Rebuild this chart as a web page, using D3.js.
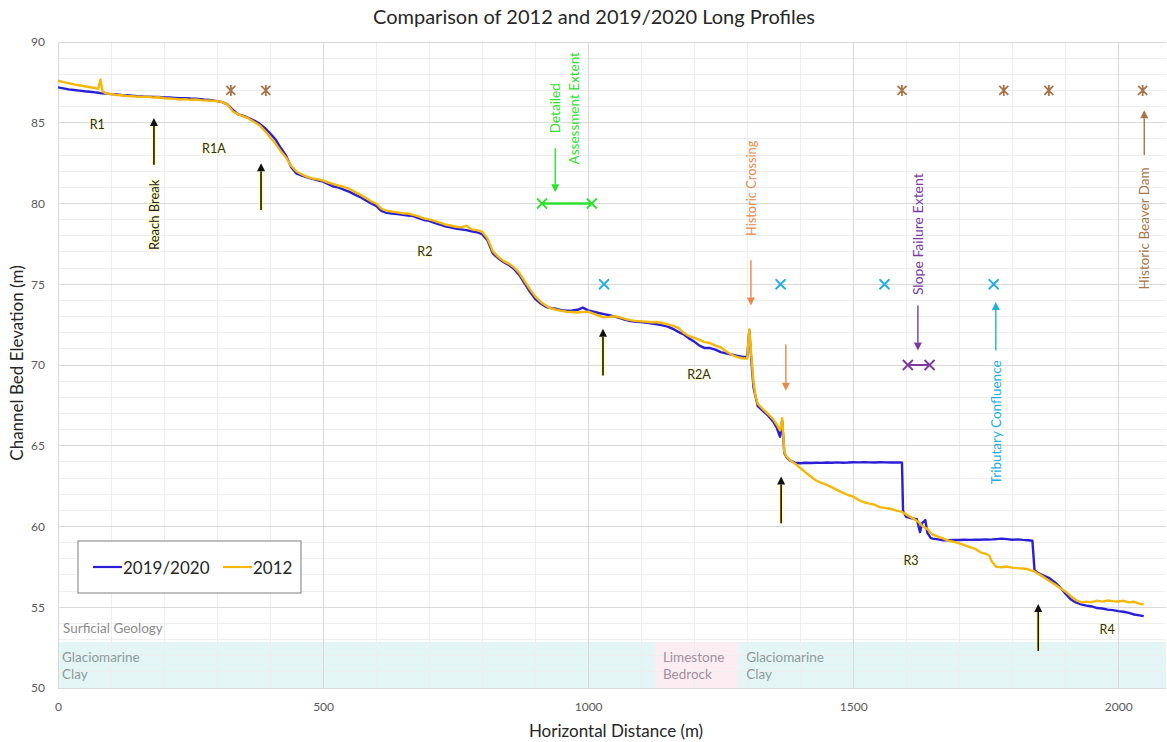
<!DOCTYPE html>
<html><head><meta charset="utf-8">
<script src="https://cdn.jsdelivr.net/npm/d3@7"></script>
<style>
body{margin:0;background:#fff;}
svg{display:block;font-family:Lato,"Open Sans",sans-serif;}
</style></head><body>
<svg id="chart" width="1167" height="742"></svg>
<script>
// ---------------- data ----------------
const distance = [
 0,10,20,30,40,50,60,70,76,80,
 84,90,100,110,120,130,140,150,160,170,
 180,190,200,210,220,230,240,250,260,270,
 280,290,300,310,320,330,340,350,360,370,
 380,390,400,410,420,430,440,450,460,470,
 480,490,500,510,520,530,540,550,560,570,
 580,590,600,610,620,630,640,650,660,670,
 680,690,700,710,720,730,740,750,760,770,
 780,790,800,810,820,830,840,850,860,870,
 880,890,900,910,920,930,940,950,960,970,
 980,990,1000,1010,1020,1030,1040,1050,1060,1070,
 1080,1090,1100,1110,1120,1130,1140,1150,1160,1170,
 1180,1190,1200,1210,1220,1230,1240,1250,1260,1270,
 1280,1290,1300,1304,1308,1312,1316,1320,1330,1340,
 1350,1356,1362,1366,1370,1374,1380,1390,1400,1410,
 1420,1430,1440,1450,1460,1470,1480,1490,1500,1510,
 1520,1530,1540,1550,1560,1570,1580,1590,1592,1594,
 1600,1610,1620,1626,1630,1636,1640,1646,1650,1660,
 1670,1680,1690,1700,1710,1720,1730,1740,1750,1756,
 1762,1770,1780,1790,1800,1810,1820,1830,1838,1842,
 1850,1860,1870,1880,1890,1900,1910,1920,1930,1940,
 1950,1960,1970,1980,1990,2000,2010,2020,2030,2040,
 2048
];
const elev2020 = [
 87.19,87.13,87.07,87.03,86.99,86.95,86.92,86.88,86.86,86.83,
 86.82,86.80,86.77,86.76,86.72,86.70,86.68,86.65,86.63,86.62,
 86.60,86.59,86.57,86.56,86.54,86.52,86.52,86.50,86.49,86.46,
 86.42,86.40,86.34,86.28,86.12,85.80,85.52,85.42,85.28,85.14,
 84.95,84.68,84.35,83.98,83.45,82.98,82.25,81.85,81.72,81.62,
 81.52,81.44,81.35,81.20,81.05,80.98,80.85,80.72,80.55,80.40,
 80.20,80.02,79.85,79.55,79.42,79.38,79.35,79.30,79.26,79.22,
 79.10,78.98,78.92,78.80,78.70,78.58,78.52,78.45,78.40,78.35,
 78.28,78.22,78.10,77.72,76.92,76.62,76.38,76.20,75.95,75.58,
 75.05,74.55,74.10,73.82,73.60,73.52,73.48,73.40,73.36,73.38,
 73.42,73.55,73.38,73.30,73.22,73.15,73.08,73.00,72.90,72.80,
 72.72,72.68,72.66,72.62,72.56,72.52,72.45,72.38,72.24,72.05,
 71.90,71.65,71.45,71.20,71.05,71.05,70.95,70.80,70.72,70.65,
 70.58,70.52,70.50,72.15,70.20,68.60,68.00,67.45,67.15,66.85,
 66.45,66.10,65.55,66.55,64.55,64.30,64.10,63.95,63.92,63.95,
 63.93,63.95,63.94,63.96,63.95,63.97,63.95,63.96,63.98,63.97,
 63.98,63.97,63.96,63.98,63.97,63.96,63.97,63.96,63.95,60.95,
 60.60,60.50,60.45,59.65,60.20,60.40,59.60,59.30,59.25,59.20,
 59.15,59.15,59.17,59.16,59.18,59.17,59.19,59.18,59.20,59.19,
 59.20,59.22,59.25,59.22,59.18,59.20,59.17,59.15,59.12,57.30,
 57.10,56.95,56.80,56.55,56.25,55.85,55.50,55.30,55.18,55.10,
 55.05,54.95,54.92,54.85,54.82,54.76,54.72,54.65,54.55,54.50,
 54.45
];
const elev2012 = [
 87.60,87.52,87.45,87.38,87.32,87.26,87.20,87.15,87.10,87.68,
 86.95,86.82,86.78,86.72,86.70,86.66,86.64,86.62,86.60,86.62,
 86.56,86.58,86.52,86.50,86.48,86.44,86.46,86.42,86.44,86.40,
 86.38,86.36,86.34,86.28,86.12,85.70,85.52,85.40,85.25,85.05,
 84.85,84.50,84.10,83.72,83.25,82.85,82.32,81.98,81.80,81.65,
 81.55,81.50,81.42,81.30,81.20,81.10,81.02,80.90,80.72,80.55,
 80.35,80.15,80.00,79.68,79.55,79.50,79.45,79.40,79.38,79.30,
 79.20,79.08,79.02,78.92,78.82,78.70,78.64,78.56,78.52,78.62,
 78.40,78.35,78.25,77.85,77.05,76.70,76.45,76.28,76.05,75.70,
 75.20,74.70,74.25,73.92,73.68,73.50,73.42,73.35,73.30,73.28,
 73.25,73.28,73.30,73.18,73.05,72.95,72.98,73.02,72.95,72.85,
 72.78,72.72,72.70,72.68,72.65,72.66,72.60,72.52,72.42,72.30,
 72.00,71.80,71.68,71.55,71.42,71.35,71.20,71.10,70.85,70.65,
 70.50,70.42,70.40,72.20,70.50,68.90,68.05,67.60,67.25,66.95,
 66.60,66.30,65.95,66.70,64.62,64.35,64.12,63.90,63.62,63.35,
 63.10,62.85,62.70,62.58,62.42,62.25,62.10,61.95,61.85,61.65,
 61.50,61.42,61.35,61.20,61.15,61.10,61.00,60.92,60.90,60.86,
 60.75,60.55,60.35,60.20,60.05,59.92,59.85,59.60,59.50,59.38,
 59.25,59.12,59.05,58.95,58.85,58.72,58.62,58.40,58.30,58.22,
 57.80,57.50,57.48,57.52,57.45,57.42,57.40,57.35,57.25,57.22,
 57.05,56.85,56.62,56.42,56.20,55.98,55.70,55.45,55.30,55.35,
 55.32,55.40,55.35,55.42,55.38,55.36,55.40,55.30,55.34,55.22,
 55.18
];
const seriesNames = ["2019/2020", "2012"];
const xTicks = [0, 500, 1000, 1500, 2000];
const yTicks = [50, 55, 60, 65, 70, 75, 80, 85, 90];

const reachNames = ["R1", "R1A", "R2", "R2A", "R3", "R4"];
const reachDist  = [74, 294, 692, 1209, 1609, 1979];
const reachElev  = [84.9, 83.4, 77.0, 69.4, 57.9, 53.6];

const reachBreakDist = [181, 383, 1028, 1364, 1849];
const reachBreakFrom = [82.4, 79.6, 69.35, 60.2, 52.3];
const reachBreakTo   = [85.3, 82.5, 72.25, 63.1, 55.2];

const beaverDamDist = [326, 392, 1592, 1784, 1869, 2046];
const beaverDamElev = 87;
const confluenceDist = [1030, 1363, 1559, 1765];
const confluenceElev = 75;
const assessmentDist = [913, 1007];
const assessmentElev = 80;
const slopeFailureDist = [1603, 1644];
const slopeFailureElev = 70;

const geologyTop = 52.85;
const geologyUnits = ["Glaciomarine|Clay", "Limestone|Bedrock", "Glaciomarine|Clay"];
const geologyStart = [0, 1126, 1283];
const geologyEnd   = [1126, 1283, 2090];

// ---------------- setup ----------------
const svg = d3.select("#chart");
const pL = 58, pR = 1166, pT = 42, pB = 688;
const x = d3.scaleLinear().domain([0, 2090]).range([pL, pR]);
const y = d3.scaleLinear().domain([50, 90]).range([pB, pT]);

svg.append("defs").append("clipPath").attr("id", "plotclip")
  .append("rect").attr("x", pL).attr("y", pT).attr("width", pR - pL).attr("height", pB - pT);

// geology band
const geo = svg.append("g");
geologyUnits.forEach((u, i) => {
  geo.append("rect")
    .attr("x", x(geologyStart[i])).attr("y", y(geologyTop))
    .attr("width", x(geologyEnd[i]) - x(geologyStart[i]))
    .attr("height", y(50) - y(geologyTop))
    .attr("fill", u.startsWith("Limestone") ? "#fcedf3" : "#e3f6f5");
});

// grid
const grid = svg.append("g");
d3.range(50, 91, 1).forEach(v => {
  if (v % 5 === 0) return;
  grid.append("line").attr("x1", pL).attr("x2", pR).attr("y1", y(v)).attr("y2", y(v))
    .attr("stroke", "#eeeeee").attr("stroke-width", 1).attr("shape-rendering", "crispEdges");
});
d3.range(100, 2090, 100).forEach(v => {
  if (v % 500 === 0) return;
  grid.append("line").attr("x1", x(v)).attr("x2", x(v)).attr("y1", pT).attr("y2", pB)
    .attr("stroke", "#eeeeee").attr("stroke-width", 1).attr("shape-rendering", "crispEdges");
});
yTicks.forEach(v => {
  grid.append("line").attr("x1", pL).attr("x2", pR).attr("y1", y(v)).attr("y2", y(v))
    .attr("stroke", "#d9d9d9").attr("stroke-width", 1).attr("shape-rendering", "crispEdges");
});
xTicks.forEach(v => {
  grid.append("line").attr("x1", x(v)).attr("x2", x(v)).attr("y1", pT).attr("y2", pB)
    .attr("stroke", "#d9d9d9").attr("stroke-width", 1).attr("shape-rendering", "crispEdges");
});

// geology text
const geoText = svg.append("g").attr("font-size", 13.5);
geoText.append("text").attr("x", pL + 5).attr("y", y(geologyTop) - 9)
  .attr("fill", "#8c8c8c").text("Surficial Geology");
geologyUnits.forEach((u, i) => {
  const lines = u.split("|");
  const tx = x(geologyStart[i]) + (i === 0 ? 4 : 8);
  const t = geoText.append("text").attr("x", tx).attr("fill", i === 1 ? "#a38d9c" : "#8e9a9a");
  lines.forEach((l, j) => t.append("tspan").attr("x", tx).attr("y", y(geologyTop) + 20 + j * 17).text(l));
});

// axes
const xAxis = svg.append("g").attr("transform", `translate(0,${pB})`)
  .call(d3.axisBottom(x).tickValues(xTicks).tickSize(0).tickPadding(14).tickFormat(d3.format("d")));
xAxis.select(".domain").remove();
xAxis.selectAll("text").attr("font-size", 12).attr("fill", "#595959").attr("font-family", "Lato,sans-serif");
const yAxis = svg.append("g").attr("transform", `translate(${pL},0)`)
  .call(d3.axisLeft(y).tickValues(yTicks).tickSize(0).tickPadding(13));
yAxis.select(".domain").remove();
yAxis.selectAll("text").attr("font-size", 12).attr("fill", "#595959").attr("font-family", "Lato,sans-serif");

// titles
svg.append("text").attr("x", 594).attr("y", 24).attr("text-anchor", "middle")
  .attr("font-size", 20).attr("fill", "#262626").text("Comparison of 2012 and 2019/2020 Long Profiles");
svg.append("text").attr("x", 616).attr("y", 737).attr("text-anchor", "middle")
  .attr("font-size", 17).attr("fill", "#262626").text("Horizontal Distance (m)");
svg.append("text").attr("transform", `translate(23,${(pT + pB) / 2 - 2}) rotate(-90)`)
  .attr("text-anchor", "middle").attr("font-size", 17).attr("fill", "#262626").text("Channel Bed Elevation (m)");

// lines
const line = d3.line().x((d) => x(d[0])).y((d) => y(d[1]));
const plot = svg.append("g").attr("clip-path", "url(#plotclip)");
const pts2020 = distance.map((d, i) => [d, elev2020[i]]);
const pts2012 = distance.map((d, i) => [d, elev2012[i]]);
plot.append("path").datum(pts2020).attr("d", line).attr("fill", "none")
  .attr("stroke", "#2a1fd6").attr("stroke-width", 2.4).attr("stroke-linejoin", "round");
plot.append("path").datum(pts2012).attr("d", line).attr("fill", "none")
  .attr("stroke", "#f5b80a").attr("stroke-width", 2.4).attr("stroke-linejoin", "round");

// helpers
const ann = svg.append("g");
function arrow(x1, y1, x2, y2, color, w) {
  const ang = Math.atan2(y2 - y1, x2 - x1);
  const L = 8, Wd = 4;
  const bx = x2 - L * Math.cos(ang), by = y2 - L * Math.sin(ang);
  ann.append("line").attr("x1", x1).attr("y1", y1).attr("x2", bx).attr("y2", by)
    .attr("stroke", color).attr("stroke-width", w || 1.5);
  ann.append("path").attr("d", `M${x2},${y2}L${bx + Wd * Math.sin(ang)},${by - Wd * Math.cos(ang)}L${bx - Wd * Math.sin(ang)},${by + Wd * Math.cos(ang)}Z`)
    .attr("fill", color);
}
function xMark(cx, cy, color, s) {
  s = s || 5;
  ann.append("path").attr("d", `M${cx - s},${cy - s}L${cx + s},${cy + s}M${cx - s},${cy + s}L${cx + s},${cy - s}`)
    .attr("stroke", color).attr("stroke-width", 1.8).attr("fill", "none");
}
function starMark(cx, cy, color) {
  const s = 4.5;
  ann.append("path").attr("d", `M${cx - s},${cy - s}L${cx + s},${cy + s}M${cx - s},${cy + s}L${cx + s},${cy - s}M${cx},${cy - s - 1}L${cx},${cy + s + 1}`)
    .attr("stroke", color).attr("stroke-width", 1.8).attr("fill", "none");
}
function vText(cx, cy, txt, color, size) {
  return ann.append("text").attr("transform", `translate(${cx},${cy}) rotate(-90)`)
    .attr("text-anchor", "middle").attr("dominant-baseline", "central")
    .attr("font-size", size || 13).attr("fill", color).text(txt);
}

// reach break arrows (black with yellow glow)
reachBreakDist.forEach((d, i) => {
  ann.append("line").attr("x1", x(d)).attr("x2", x(d)).attr("y1", y(reachBreakFrom[i])).attr("y2", y(reachBreakTo[i]) + 4)
    .attr("stroke", "#ffff80").attr("stroke-width", 5).attr("opacity", 0.6);
  arrow(x(d), y(reachBreakFrom[i]), x(d), y(reachBreakTo[i]), "#111", 1.6);
});
vText(x(reachBreakDist[0]), y(79.3), "Reach Break", "#222", 13)
  .attr("stroke", "#ffff70").attr("stroke-width", 2.5).attr("stroke-opacity", 0.35).attr("paint-order", "stroke");

// reach labels
reachNames.forEach((n, i) => {
  ann.append("text").attr("x", x(reachDist[i])).attr("y", y(reachElev[i]))
    .attr("text-anchor", "middle").attr("dominant-baseline", "central")
    .attr("font-size", 12.5).attr("fill", "#2f2f1c")
    .attr("stroke", "#ffff70").attr("stroke-width", 2).attr("stroke-opacity", 0.3).attr("paint-order", "stroke")
    .text(n);
});

// beaver dams
const brown = "#a87445";
beaverDamDist.forEach(d => starMark(x(d), y(beaverDamElev), brown));
arrow(x(2049), y(83.0), x(2049), y(85.78), brown, 1.4);
vText(x(2049), y(78.46), "Historic Beaver Dam", brown, 13.5);

// confluence
const cyan = "#22aee0";
confluenceDist.forEach(d => xMark(x(d), y(confluenceElev), cyan));
arrow(x(1769), y(70.9), x(1769), y(73.9), cyan, 1.4);
vText(x(1769), y(66.45), "Tributary Confluence", cyan, 13.5);

// assessment extent
const green = "#2ee02e";
ann.append("line").attr("x1", x(assessmentDist[0])).attr("x2", x(assessmentDist[1]))
  .attr("y1", y(assessmentElev)).attr("y2", y(assessmentElev)).attr("stroke", green).attr("stroke-width", 2.5);
assessmentDist.forEach(d => xMark(x(d), y(assessmentElev), green));
arrow(x(938), y(83.42), x(938), y(80.7), green, 1.4);
vText(x(938), y(85.9), "Detailed", green, 13.5);
vText(x(938) + 19, y(85.9), "Assessment  Extent", green, 13.5);

// slope failure
const purple = "#7a3a9e";
ann.append("line").attr("x1", x(slopeFailureDist[0])).attr("x2", x(slopeFailureDist[1]))
  .attr("y1", y(slopeFailureElev)).attr("y2", y(slopeFailureElev)).attr("stroke", purple).attr("stroke-width", 2);
slopeFailureDist.forEach(d => xMark(x(d), y(slopeFailureElev), purple));
arrow(x(1622), y(73.69), x(1622), y(70.9), purple, 1.4);
vText(x(1622), y(78.1), "Slope Failure Extent", purple, 14);

// historic crossing
const orange = "#e8884a";
arrow(x(1307), y(76.48), x(1307), y(73.69), orange, 1.4);
arrow(x(1373), y(71.27), x(1373), y(68.41), orange, 1.4);
vText(x(1307), y(80.94), "Historic Crossing", orange, 12.8);

// legend
const lg = svg.append("g");
lg.append("rect").attr("x", 78).attr("y", 541).attr("width", 223).attr("height", 52)
  .attr("fill", "#fff").attr("stroke", "#7f7f7f").attr("stroke-width", 1);
const legColors = ["#2a1fd6", "#f5b80a"];
const legX = [93, 223];
seriesNames.forEach((n, i) => {
  lg.append("line").attr("x1", legX[i]).attr("x2", legX[i] + 29).attr("y1", 567).attr("y2", 567)
    .attr("stroke", legColors[i]).attr("stroke-width", 2.2);
  lg.append("text").attr("x", legX[i] + 30).attr("y", 567).attr("dominant-baseline", "central")
    .attr("font-size", 17).attr("fill", "#262626").text(n);
});
</script>
</body></html>
